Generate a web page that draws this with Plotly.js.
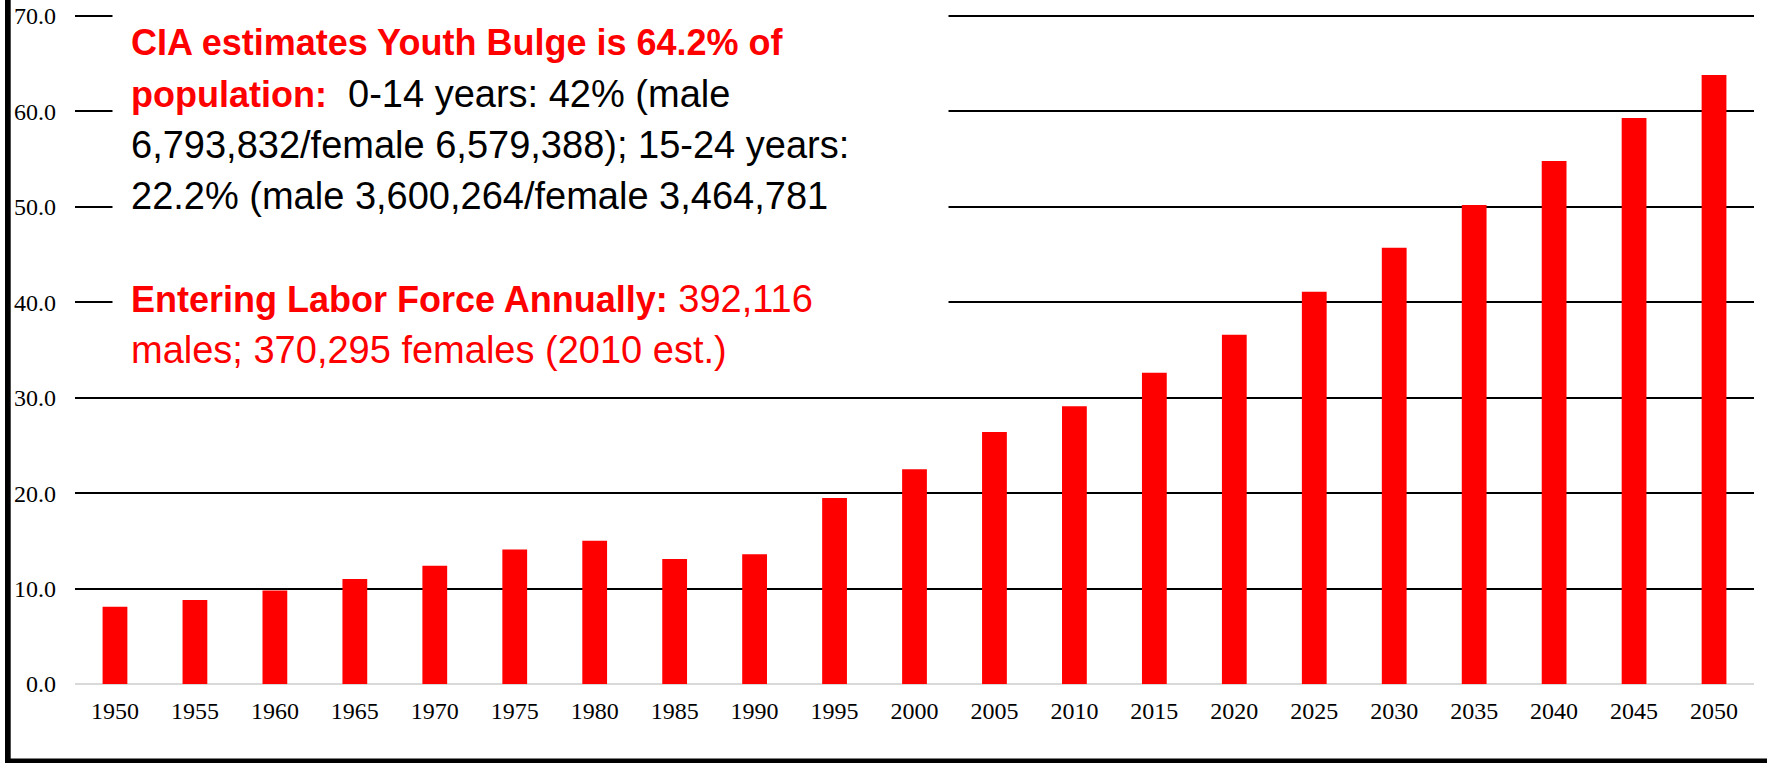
<!DOCTYPE html>
<html>
<head>
<meta charset="utf-8">
<script src="https://cdn.plot.ly/plotly-3.0.1.min.js"></script>
<style>
  html, body { margin: 0; padding: 0; background: #fff; }
  #plot { width: 1767px; height: 763px; }
</style>
</head>
<body>
<div id="plot"></div>
<script>
const years = ["1950", "1955", "1960", "1965", "1970", "1975", "1980", "1985", "1990", "1995",
    "2000", "2005", "2010", "2015", "2020", "2025", "2030", "2035", "2040", "2045", "2050"];
const youth_pct = [8.1, 8.8, 9.8, 11.0, 12.4, 14.1, 15.0, 13.1, 13.6, 19.5,
    22.5, 26.4, 29.1, 32.6, 36.6, 41.1, 45.7, 50.2, 54.8, 59.3, 63.8];

const reg = (t, c) => '<span style="font-size:38px;color:' + c + '">' + t + '</span>';
const note_lines = [
    '<b>CIA estimates Youth Bulge is 64.2% of</b>',
    '<b>population:</b>' + reg('\u00a0 0-14 years: 42% (male', '#000000'),
    reg('6,793,832/female 6,579,388); 15-24 years:', '#000000'),
    reg('22.2% (male 3,600,264/female 3,464,781', '#000000'),
    '<b>Entering Labor Force Annually:</b>' + reg(' 392,116', '#ff0000'),
    reg('males; 370,295 females (2010 est.)', '#ff0000')
];
// pixel row of each line centre
const note_rows = [43, 94, 145, 196, 299, 350];

const W = 1767, H = 763;
const M = { l: 75, r: 13, t: 14, b: 79 };
const pw = W - M.l - M.r;
const ph = H - M.t - M.b;
const px = (x) => (x - M.l) / pw;
const py = (y) => (H - M.b - y) / ph;

let data = [
    {
        type: "bar",
        x: years,
        y: youth_pct,
        marker: { color: "#ff0000", line: { width: 0 } },
        hoverinfo: "x+y"
    }
];

// white box behind the note, hides the gridlines
let annotations = [
    {
        text: " ",
        xref: "paper",
        yref: "paper",
        x: px(112),
        y: py(-4),
        xanchor: "left",
        yanchor: "top",
        width: 835,
        height: 384,
        borderpad: 0,
        bgcolor: "#ffffff",
        showarrow: false
    }
];

note_lines.forEach((t, i) => {
    annotations.push({
        text: t,
        xref: "paper",
        yref: "paper",
        x: px(129),
        y: py(note_rows[i]),
        xanchor: "left",
        yanchor: "middle",
        showarrow: false,
        align: "left",
        font: { family: "Liberation Sans, Arial, sans-serif", size: 36, color: "#ff0000" }
    });
});

let shapes = [
    // frame on the left and at the bottom
    {
        type: "rect", xref: "paper", yref: "paper",
        x0: px(5), x1: px(10.7), y0: py(763), y1: py(0),
        fillcolor: "#000000", line: { width: 0 }
    },
    {
        type: "rect", xref: "paper", yref: "paper",
        x0: px(5), x1: px(1767), y0: py(763), y1: py(758.4),
        fillcolor: "#000000", line: { width: 0 }
    }
];

let layout = {
    width: W,
    height: H,
    margin: M,
    paper_bgcolor: "#ffffff",
    plot_bgcolor: "#ffffff",
    showlegend: false,
    bargap: 0.69,
    font: { family: "Liberation Serif, Times New Roman, serif", size: 24, color: "#000000" },
    xaxis: {
        type: "category",
        showgrid: false,
        showline: false,
        ticks: "",
        ticklabelstandoff: 10,
        tickfont: { family: "Liberation Serif, Times New Roman, serif", size: 24, color: "#000000" }
    },
    yaxis: {
        range: [0, 70.2],
        tick0: 0,
        dtick: 10,
        tickformat: ".1f",
        showgrid: true,
        gridcolor: "#000000",
        gridwidth: 1.6,
        zeroline: true,
        zerolinecolor: "#d9d9d9",
        zerolinewidth: 2,
        showline: false,
        ticks: "",
        ticklabelstandoff: 18,
        tickfont: { family: "Liberation Serif, Times New Roman, serif", size: 24, color: "#000000" }
    },
    annotations: annotations,
    shapes: shapes
};

let config = { displayModeBar: false, responsive: false };

Plotly.newPlot("plot", data, layout, config);
</script>
</body>
</html>
